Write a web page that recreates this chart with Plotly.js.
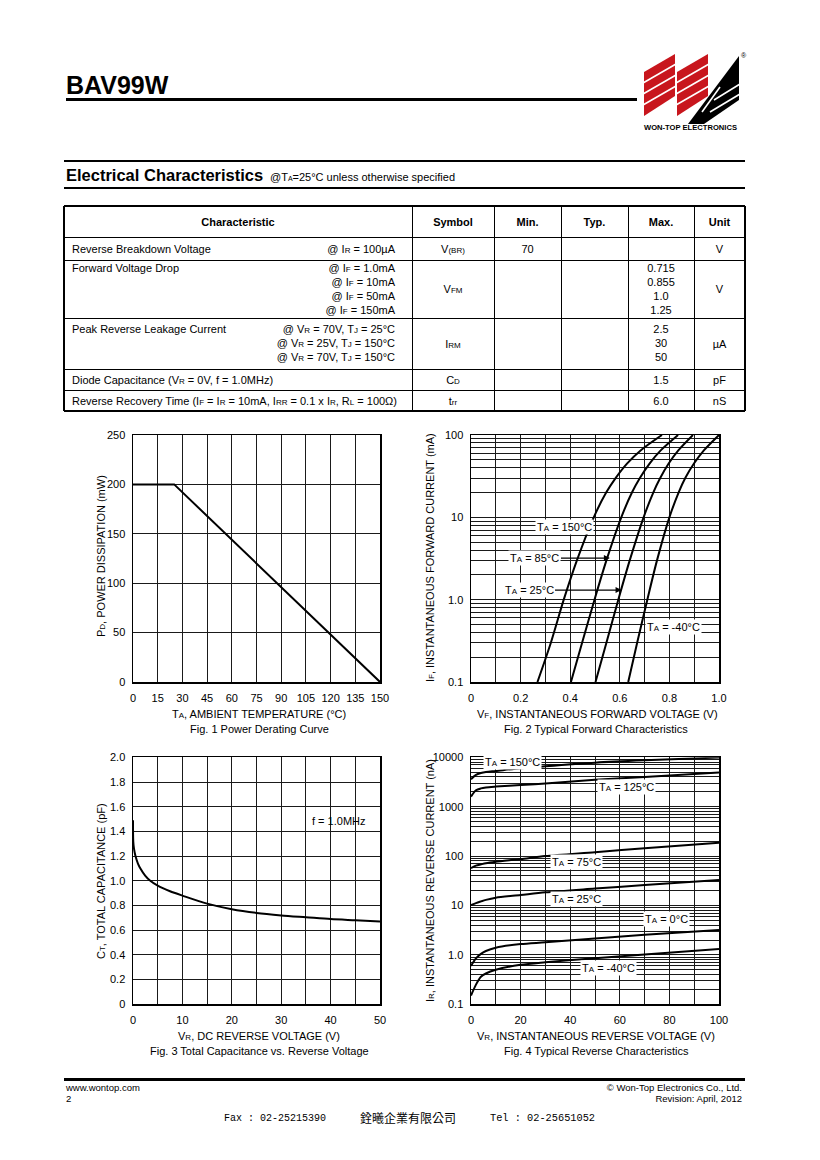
<!DOCTYPE html>
<html><head><meta charset="utf-8">
<script src="https://cdn.plot.ly/plotly-3.0.1.min.js"></script>
<style>
body{margin:0;background:#fff;}
#page{position:relative;width:820px;height:1160px;overflow:hidden;font-family:'Liberation Sans',Arial,sans-serif;color:#000;background:#fff;}
#chart{position:absolute;left:0;top:0;width:820px;height:1160px;z-index:0;}
#ov{position:absolute;left:0;top:0;width:820px;height:1160px;z-index:1;pointer-events:none;}
.t{position:absolute;white-space:nowrap;}
.ln{position:absolute;background:#000;}
.s{font-size:8px;}
</style></head>
<body><div id="page"><div id="chart"></div><div id="ov"></div></div>
<script>
// ---------- DATA ----------
// Fig.1 Power derating
const PD_TEMP = [0, 25, 150];
const PD_POWER = [200, 200, 0];
// Fig.2 Forward characteristics (VF in V, IF in mA)
const IF_PTS = [0.1, 0.3, 1.0, 3.0, 10, 20, 30, 45, 65, 100];
const VF_150 = [0.268, 0.322, 0.374, 0.427, 0.495, 0.545, 0.583, 0.629, 0.684, 0.77];
const VF_85  = [0.403, 0.448, 0.498, 0.546, 0.606, 0.649, 0.681, 0.72, 0.765, 0.835];
const VF_25  = [0.502, 0.546, 0.594, 0.64, 0.696, 0.735, 0.763, 0.797, 0.836, 0.895];
const VF_M40 = [0.634, 0.670, 0.711, 0.75, 0.80, 0.837, 0.864, 0.899, 0.939, 1.0];
// Fig.3 Capacitance
const VR_CAP = [0, 0.05, 0.2, 0.5, 1, 1.5, 2.5, 3.5, 5, 7.5, 10, 15, 20, 25, 30, 35, 40, 45, 50];
const CT_PF  = [1.49, 1.32, 1.26, 1.2, 1.14, 1.1, 1.04, 1.0, 0.96, 0.915, 0.88, 0.815, 0.77, 0.74, 0.72, 0.705, 0.69, 0.68, 0.67];
// Fig.4 Reverse characteristics (IR in nA)
const VR_REV = [0, 2, 4, 6, 10, 20, 30, 50, 70, 100];
const IR_150 = [3600, 4400, 4800, 5050, 5300, 6000, 6600, 7800, 8700, 9900];
const IR_125 = [1600, 2150, 2350, 2450, 2550, 2750, 2950, 3500, 4000, 4900];
const IR_75  = [57, 64, 68, 72, 77, 87, 100, 120, 145, 186];
const IR_25  = [10.2, 11.2, 12.1, 13, 14.4, 16.3, 18.5, 22, 26, 33];
const IR_0   = [0.6, 0.85, 1.05, 1.2, 1.4, 1.66, 1.8, 2.15, 2.55, 3.2];
const IR_M40 = [0.15, 0.25, 0.36, 0.42, 0.5, 0.63, 0.71, 0.86, 1.02, 1.32];
// Tick labels
const F1_XTICKS = [0, 15, 30, 45, 60, 75, 90, 105, 120, 135, 150];
const F1_YTICKS = [0, 50, 100, 150, 200, 250];
const F2_XTICKS = [0, 0.2, 0.4, 0.6, 0.8, 1.0];
const F2_XTEXT = ['0', '0.2', '0.4', '0.6', '0.8', '1.0'];
const F2_YTICKS = [0.1, 1, 10, 100];
const F2_YTEXT = ['0.1', '1.0', '10', '100'];
const F3_XTICKS = [0, 10, 20, 30, 40, 50];
const F3_YTICKS = [0, 0.2, 0.4, 0.6, 0.8, 1.0, 1.2, 1.4, 1.6, 1.8, 2.0];
const F3_YTEXT = ['0', '0.2', '0.4', '0.6', '0.8', '1.0', '1.2', '1.4', '1.6', '1.8', '2.0'];
const F4_XTICKS = [0, 20, 40, 60, 80, 100];
const F4_YTICKS = [0.1, 1, 10, 100, 1000, 10000];
const F4_YTEXT = ['0.1', '1.0', '10', '100', '1000', '10000'];

// ---------- PAGE TEXT ----------
const ov = document.getElementById('ov');
function T(html, x, cy, o) {
  o = o || {};
  const size = o.size || 11, lh = Math.round(size * 1.3);
  const d = document.createElement('div');
  d.className = 't';
  d.innerHTML = html;
  d.style.fontSize = size + 'px';
  d.style.lineHeight = lh + 'px';
  d.style.top = (cy - lh / 2) + 'px';
  if (o.bold) d.style.fontWeight = 'bold';
  if (o.font) d.style.fontFamily = o.font;
  const a = o.align || 'l';
  if (a === 'l') d.style.left = x + 'px';
  else if (a === 'r') d.style.right = (820 - x) + 'px';
  else { d.style.left = (x - 200) + 'px'; d.style.width = '400px'; d.style.textAlign = 'center'; }
  ov.appendChild(d);
}
function L(x1, y1, x2, y2, w) {
  const d = document.createElement('div');
  d.className = 'ln';
  if (y1 === y2) { d.style.left = x1 + 'px'; d.style.width = (x2 - x1) + 'px'; d.style.top = (y1 - w / 2) + 'px'; d.style.height = w + 'px'; }
  else { d.style.top = y1 + 'px'; d.style.height = (y2 - y1) + 'px'; d.style.left = (x1 - w / 2) + 'px'; d.style.width = w + 'px'; }
  ov.appendChild(d);
}
// header
T('BAV99W', 66, 85, {size: 25, bold: true});
L(66, 99, 637, 99, 3);
// logo
ov.insertAdjacentHTML('beforeend',
 '<svg style="position:absolute;left:640px;top:50px" width="110" height="85" viewBox="0 0 110 85">' +
 '<polygon points="4,22 35,4 35,46 4,66" fill="#c8161d"/>' +
 '<polygon points="37,22 68,4 68,46 37,66" fill="#c8161d"/>' +
 '<polygon points="48,74 99,6 99,50 64,74" fill="#000"/>' +
 '<g stroke="#fff" stroke-width="1.6">' +
 '<line x1="3" y1="33" x2="36" y2="14"/><line x1="3" y1="44" x2="36" y2="25"/><line x1="3" y1="55" x2="36" y2="36"/>' +
 '<line x1="36" y1="33" x2="69" y2="14"/><line x1="36" y1="44" x2="69" y2="25"/><line x1="36" y1="55" x2="69" y2="36"/>' +
 '<line x1="74" y1="50" x2="100" y2="34"/><line x1="70" y1="62" x2="100" y2="44"/><line x1="62" y1="62" x2="80" y2="37"/>' +
 '</g>' +
 '<text x="101" y="8" font-size="7" font-family="Liberation Sans">&#174;</text>' +
 '<text x="4" y="80" font-size="7.5" font-weight="bold" font-family="Liberation Sans" textLength="93" lengthAdjust="spacingAndGlyphs">WON-TOP ELECTRONICS</text>' +
 '</svg>');
// section title
L(64, 161, 745, 161, 2);
T('Electrical Characteristics', 66, 175.5, {size: 16.5, bold: true});
T('@T<span style="font-size:7px">A</span>=25°C unless otherwise specified', 270, 177, {size: 11});
L(64, 187.5, 745, 187.5, 2);

// table
const COLX = [64, 412, 494, 561, 628, 694, 745];
const ROWY = [206, 237, 260, 318, 369, 390, 411];
ROWY.forEach((y, i) => L(64, y, 745, y, (i === 0 || i === ROWY.length - 1) ? 2 : 1));
COLX.forEach((x, i) => L(x, 206, x, 411, (i === 0 || i === COLX.length - 1) ? 2 : 1));
const HEAD = ['Characteristic', 'Symbol', 'Min.', 'Typ.', 'Max.', 'Unit'];
HEAD.forEach((h, i) => T(h, (COLX[i] + COLX[i + 1]) / 2, 221.5, {align: 'c', bold: true}));
const cc = i => (COLX[i] + COLX[i + 1]) / 2;
// row 1
T('Reverse Breakdown Voltage', 72, 248.5);
T('@ I<span class="s">R</span> = 100µA', 395, 248.5, {align: 'r'});
T('V<span class="s">(BR)</span>', cc(1), 248.5, {align: 'c'});
T('70', cc(2), 248.5, {align: 'c'});
T('V', cc(5), 248.5, {align: 'c'});
// row 2
T('Forward Voltage Drop', 72, 268);
const R2C = ['@ I<span class="s">F</span> = 1.0mA', '@ I<span class="s">F</span> = 10mA', '@ I<span class="s">F</span> = 50mA', '@ I<span class="s">F</span> = 150mA'];
const R2M = ['0.715', '0.855', '1.0', '1.25'];
R2C.forEach((s, i) => T(s, 395, 268 + 14 * i, {align: 'r'}));
R2M.forEach((s, i) => T(s, cc(4), 268 + 14 * i, {align: 'c'}));
T('V<span class="s">FM</span>', cc(1), 289, {align: 'c'});
T('V', cc(5), 289, {align: 'c'});
// row 3
T('Peak Reverse Leakage Current', 72, 329);
const R3C = ['@ V<span class="s">R</span> = 70V, T<span class="s">J</span> = 25°C', '@ V<span class="s">R</span> = 25V, T<span class="s">J</span> = 150°C', '@ V<span class="s">R</span> = 70V, T<span class="s">J</span> = 150°C'];
const R3M = ['2.5', '30', '50'];
R3C.forEach((s, i) => T(s, 395, 329 + 14 * i, {align: 'r'}));
R3M.forEach((s, i) => T(s, cc(4), 329 + 14 * i, {align: 'c'}));
T('I<span class="s">RM</span>', cc(1), 343.5, {align: 'c'});
T('µA', cc(5), 343.5, {align: 'c'});
// row 4
T('Diode Capacitance (V<span class="s">R</span> = 0V, f = 1.0MHz)', 72, 379.5);
T('C<span class="s">D</span>', cc(1), 379.5, {align: 'c'});
T('1.5', cc(4), 379.5, {align: 'c'});
T('pF', cc(5), 379.5, {align: 'c'});
// row 5
T('Reverse Recovery Time (I<span class="s">F</span> = I<span class="s">R</span> = 10mA, I<span class="s">RR</span> = 0.1 x I<span class="s">R</span>, R<span class="s">L</span> = 100Ω)', 72, 400.5);
T('t<span class="s">rr</span>', cc(1), 400.5, {align: 'c'});
T('6.0', cc(4), 400.5, {align: 'c'});
T('nS', cc(5), 400.5, {align: 'c'});

// footer
L(64, 1079, 745, 1079, 3);
T('www.wontop.com', 66, 1088, {size: 9.5});
T('2', 66, 1099, {size: 9.5});
T('© Won-Top Electronics Co., Ltd.', 742, 1088, {size: 9.5, align: 'r'});
T('Revision: April, 2012', 742, 1099, {size: 9.5, align: 'r'});
T('Fax : 02-25215390', 224, 1118, {size: 10, font: "'Liberation Mono',monospace"});
T('銓曦企業有限公司', 360, 1118, {size: 12, font: "'Noto Sans CJK TC',sans-serif"});
T('Tel : 02-25651052', 490, 1118, {size: 10.3, font: "'Liberation Mono',monospace"});

// ---------- CHARTS ----------
const W = 820, H = 1160;
const px = x => x / W, py = y => 1 - y / H;
const FONT = {family: 'Liberation Sans, Arial, sans-serif', size: 11, color: '#000'};
const GRID = '#1a1a1a';
const SUB = s => '<span style="font-size:8px">' + s + '</span>';
function range(a, b, s) { const r = []; for (let v = a; v <= b + 1e-9; v += s) r.push(+v.toFixed(6)); return r; }
function logMinor(d0, d1) { const r = []; for (let d = d0; d < d1; d++) for (let k = 2; k <= 9; k++) r.push(k * Math.pow(10, d)); return r; }
function ax(dom, extra) {
  return Object.assign({domain: dom, showgrid: true, gridcolor: GRID, gridwidth: 1, zeroline: false,
    showline: true, mirror: true, linecolor: '#000', linewidth: 1.5, ticks: '', tickfont: FONT, fixedrange: true}, extra);
}
const line = {color: '#000', width: 2};
const lineS = {color: '#000', width: 2, shape: 'spline', smoothing: 0.8};
const traces = [
  {x: PD_TEMP, y: PD_POWER, xaxis: 'x', yaxis: 'y', mode: 'lines', line: line},
  {x: VF_150, y: IF_PTS, xaxis: 'x2', yaxis: 'y2', mode: 'lines', line: lineS},
  {x: VF_85, y: IF_PTS, xaxis: 'x2', yaxis: 'y2', mode: 'lines', line: lineS},
  {x: VF_25, y: IF_PTS, xaxis: 'x2', yaxis: 'y2', mode: 'lines', line: lineS},
  {x: VF_M40, y: IF_PTS, xaxis: 'x2', yaxis: 'y2', mode: 'lines', line: lineS},
  {x: VR_CAP, y: CT_PF, xaxis: 'x3', yaxis: 'y3', mode: 'lines', line: lineS},
  {x: VR_REV, y: IR_150, xaxis: 'x4', yaxis: 'y4', mode: 'lines', line: lineS},
  {x: VR_REV, y: IR_125, xaxis: 'x4', yaxis: 'y4', mode: 'lines', line: lineS},
  {x: VR_REV, y: IR_75, xaxis: 'x4', yaxis: 'y4', mode: 'lines', line: lineS},
  {x: VR_REV, y: IR_25, xaxis: 'x4', yaxis: 'y4', mode: 'lines', line: lineS},
  {x: VR_REV, y: IR_0, xaxis: 'x4', yaxis: 'y4', mode: 'lines', line: lineS},
  {x: VR_REV, y: IR_M40, xaxis: 'x4', yaxis: 'y4', mode: 'lines', line: lineS}
];
const XL = [px(133), px(380)], XR = [px(471), px(719)];
const YT = [py(682), py(435)], YB = [py(1004.3), py(757.3)];
const layout = {
  width: W, height: H, margin: {l: 0, r: 0, t: 0, b: 0},
  paper_bgcolor: 'rgba(0,0,0,0)', plot_bgcolor: '#fff', showlegend: false, font: FONT,
  xaxis: ax(XL, {anchor: 'y', range: [0, 150], tickvals: F1_XTICKS, ticklabelstandoff: 5}),
  yaxis: ax(YT, {anchor: 'x', range: [0, 250], tickvals: F1_YTICKS, ticklabelstandoff: 4}),
  xaxis2: ax(XR, {anchor: 'y2', range: [0, 1], tickvals: F2_XTICKS, ticktext: F2_XTEXT, ticklabelstandoff: 5,
    minor: {tickvals: range(0.1, 0.9, 0.2), showgrid: true, gridcolor: GRID, gridwidth: 1, ticks: ''}}),
  yaxis2: ax(YT, {anchor: 'x2', type: 'log', range: [-1, 2], tickvals: F2_YTICKS, ticktext: F2_YTEXT, ticklabelstandoff: 4,
    minor: {tickvals: logMinor(-1, 2), showgrid: true, gridcolor: GRID, gridwidth: 1, ticks: ''}}),
  xaxis3: ax(XL, {anchor: 'y3', range: [0, 50], tickvals: F3_XTICKS, ticklabelstandoff: 5,
    minor: {tickvals: range(5, 45, 10), showgrid: true, gridcolor: GRID, gridwidth: 1, ticks: ''}}),
  yaxis3: ax(YB, {anchor: 'x3', range: [0, 2], tickvals: F3_YTICKS, ticktext: F3_YTEXT, ticklabelstandoff: 4}),
  xaxis4: ax(XR, {anchor: 'y4', range: [0, 100], tickvals: F4_XTICKS, ticklabelstandoff: 5,
    minor: {tickvals: range(10, 90, 20), showgrid: true, gridcolor: GRID, gridwidth: 1, ticks: ''}}),
  yaxis4: ax(YB, {anchor: 'x4', type: 'log', range: [-1, 4], tickvals: F4_YTICKS, ticktext: F4_YTEXT, ticklabelstandoff: 4,
    minor: {tickvals: logMinor(-1, 4), showgrid: true, gridcolor: GRID, gridwidth: 1, ticks: ''}}),
  annotations: []
};
const A = layout.annotations;
function P(text, x, y, o) {
  A.push(Object.assign({xref: 'paper', yref: 'paper', x: px(x), y: py(y), text: text, showarrow: false,
    xanchor: 'center', yanchor: 'middle', font: FONT}, o || {}));
}
// axis titles & captions
P('T' + SUB('A') + ', AMBIENT TEMPERATURE (°C)', 259, 714);
P('Fig. 1 Power Derating Curve', 259, 728.5);
P('P' + SUB('D') + ', POWER DISSIPATION (mW)', 101, 556, {textangle: -90});
P('V' + SUB('F') + ', INSTANTANEOUS FORWARD VOLTAGE (V)', 597, 714);
P('Fig. 2 Typical Forward Characteristics', 596, 728.5);
P('I' + SUB('F') + ', INSTANTANEOUS FORWARD CURRENT (mA)', 430, 558, {textangle: -90});
P('V' + SUB('R') + ', DC REVERSE VOLTAGE (V)', 259, 1036);
P('Fig. 3 Total Capacitance vs. Reverse Voltage', 259, 1050.5);
P('C' + SUB('T') + ', TOTAL CAPACITANCE (pF)', 101, 881, {textangle: -90});
P('V' + SUB('R') + ', INSTANTANEOUS REVERSE VOLTAGE (V)', 596, 1036);
P('Fig. 4 Typical Reverse Characteristics', 596, 1050.5);
P('I' + SUB('R') + ', INSTANTANEOUS REVERSE CURRENT (nA)', 430, 881, {textangle: -90});

// curve labels
function lab(xa, ya, text, x, ylog, o) {
  A.push(Object.assign({xref: xa, yref: ya, x: x, y: ylog, text: text, showarrow: false, bgcolor: '#fff',
    borderpad: 1, font: FONT, xanchor: 'center', yanchor: 'middle'}, o || {}));
}
const TA = 'T' + SUB('A');
lab('x2', 'y2', TA + ' = 150°C', 0.376, 0.883);
lab('x2', 'y2', TA + ' = -40°C', 0.815, -0.332);
lab('x2', 'y2', TA + ' = 85°C', 0.56, 0.505, {showarrow: true, axref: 'x2', ayref: 'y2', ax: 0.258, ay: 0.505,
  arrowhead: 2, arrowsize: 1, arrowwidth: 1.2, arrowcolor: '#000'});
lab('x2', 'y2', TA + ' = 25°C', 0.607, 0.117, {showarrow: true, axref: 'x2', ayref: 'y2', ax: 0.234, ay: 0.117,
  arrowhead: 2, arrowsize: 1, arrowwidth: 1.2, arrowcolor: '#000'});
lab('x3', 'y3', 'f = 1.0MHz', 41.7, 1.484, {bgcolor: 'rgba(0,0,0,0)'});
lab('x4', 'y4', TA + ' = 150°C', 16.9, 3.905);
lab('x4', 'y4', TA + ' = 125°C', 62.9, 3.399);
lab('x4', 'y4', TA + ' = 75°C', 42.7, 1.881);
lab('x4', 'y4', TA + ' = 25°C', 42.7, 1.132);
lab('x4', 'y4', TA + ' = 0°C', 79, 0.727);
lab('x4', 'y4', TA + ' = -40°C', 55.6, -0.265);

Plotly.newPlot('chart', traces, layout, {staticPlot: true, displayModeBar: false});
</script>
</body></html>
